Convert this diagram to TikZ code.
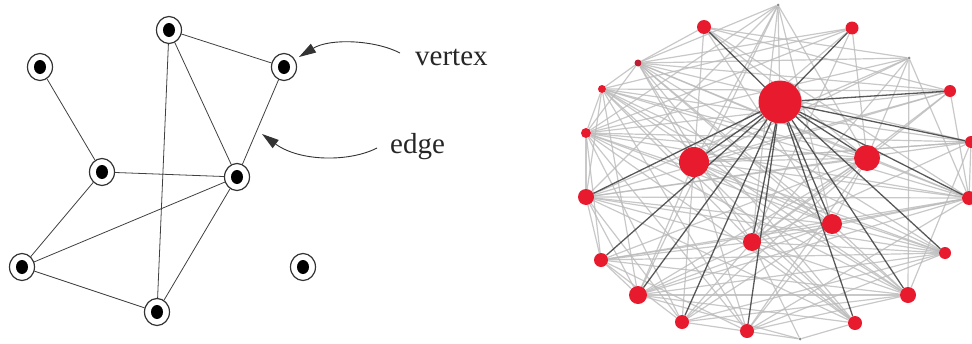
\documentclass[tikz,border=0pt]{standalone}
\usepackage{fontspec}
\setmainfont{Liberation Serif}
\usetikzlibrary{shapes.geometric,backgrounds,arrows.meta}
\definecolor{nodered}{RGB}{232,26,46}
\definecolor{darkred}{RGB}{190,30,50}
\definecolor{lightedge}{RGB}{186,186,186}
\definecolor{darkedge}{RGB}{60,60,60}
\begin{document}
\begin{tikzpicture}[x=1pt,y=-1pt,
  lv/.style={ellipse, draw=black!80, line width=1.2pt, fill=white,
    minimum width=25pt, minimum height=27pt, inner sep=0pt,
    path picture={\fill[black] (path picture bounding box.center) ellipse (6pt and 7pt);}},
  ledge/.style={draw=black!75, line width=0.8pt},
  lbl/.style={font=\fontsize{29}{30}\selectfont, text=black!85, anchor=base west, inner sep=0pt},
  callout/.style={draw=black!80, line width=0.9pt, -{Triangle[length=17pt,width=10pt]}},
  rv/.style={circle, fill=nodered, draw=none, inner sep=0pt, minimum size=#1},
  tv/.style={circle, fill=black!45, draw=none, inner sep=0pt, minimum size=3pt},
  gedge/.style={draw=lightedge, line width=1.2pt, opacity=0.8},
  dedge/.style={draw=darkedge, line width=1.3pt, opacity=0.85}]
\useasboundingbox (0,0) rectangle (972,343);
\clip (0,0) rectangle (972,343);
% ---------- left graph ----------
\node[lv] (A) at (40,67) {};
\node[lv] (B) at (169,30) {};
\node[lv] (C) at (284,67) {};
\node[lv] (D) at (102,172) {};
\node[lv] (E) at (237,177) {};
\node[lv] (F) at (22,267) {};
\node[lv] (G) at (157,312) {};
\node[lv] (H) at (303,267) {};
\draw[ledge] (A) -- (D);
\draw[ledge] (B) -- (C);
\draw[ledge] (B) -- (E);
\draw[ledge] (B) -- (G);
\draw[ledge] (C) -- (E);
\draw[ledge] (D) -- (E);
\draw[ledge] (D) -- (F);
\draw[ledge] (F) -- (E);
\draw[ledge] (F) -- (G);
\draw[ledge] (G) -- (E);
\node[lbl] (vlab) at (415,65) {vertex};
\node[lbl] (elab) at (390,153) {edge};
\coordinate (vs) at (400,53);
\coordinate (vt) at (299,57);
\coordinate (es) at (377,148);
\coordinate (et) at (262,134);
\draw[callout] (vs) .. controls (375,40) and (330,38) .. (vt);
\draw[callout] (es) .. controls (350,162) and (300,162) .. (et);
% ---------- right graph ----------
\node[tv] (r1) at (778,5) {};
\node[rv=14pt] (r2) at (704,27) {};
\node[rv=13pt] (r3) at (852,28) {};
\node[rv=7pt, fill=darkred] (r4) at (638,63) {};
\node[tv] (r5) at (909,58) {};
\node[rv=8pt] (r6) at (602,89) {};
\node[rv=12pt] (r7) at (950,91) {};
\node[rv=43pt] (r8) at (780,102) {};
\node[rv=10pt] (r9) at (586,133) {};
\node[rv=12pt] (r10) at (971,142) {};
\node[rv=30pt] (r11) at (694,162) {};
\node[rv=26pt] (r12) at (867,158) {};
\node[rv=16pt] (r13) at (586,197) {};
\node[rv=14pt] (r14) at (969,198) {};
\node[rv=20pt] (r15) at (832,224) {};
\node[rv=18pt] (r16) at (752,242) {};
\node[rv=14pt] (r17) at (601,260) {};
\node[rv=12pt] (r18) at (945,253) {};
\node[rv=18pt] (r19) at (638,295) {};
\node[rv=16pt] (r20) at (908,295) {};
\node[rv=14pt] (r21) at (682,322) {};
\node[rv=14pt] (r22) at (747,331) {};
\node[rv=14pt] (r23) at (855,323) {};
\node[tv] (r24) at (800,339) {};
\begin{pgfonlayer}{background}
\foreach \a/\b in {r1/r11,r1/r13,r1/r16,r1/r8,r1/r12,r1/r15,r1/r4,r1/r9,r1/r19,
  r2/r4,r2/r11,r2/r12,r2/r15,r2/r7,r2/r5,r2/r14,
  r3/r4,r3/r11,r3/r12,r3/r16,r3/r9,r3/r6,
  r4/r5,r4/r12,r4/r15,r4/r7,r4/r10,r4/r18,r4/r16,r4/r11,r4/r9,r4/r6,r4/r20,r4/r14,r4/r23,
  r5/r11,r5/r12,r5/r16,r5/r13,r5/r14,r5/r20,r5/r9,
  r6/r7,r6/r12,r6/r15,r6/r10,r6/r18,r6/r16,r6/r14,r6/r9,r6/r13,r6/r19,r6/r23,r6/r20,r6/r22,
  r7/r11,r7/r12,r7/r14,r7/r9,r7/r16,r7/r13,
  r9/r12,r9/r15,r9/r13,r9/r17,r9/r20,r9/r18,r9/r22,r9/r21,r9/r14,
  r10/r11,r10/r16,r10/r13,r10/r14,r10/r20,r10/r9,
  r11/r12,r11/r15,r11/r18,r11/r20,r11/r21,r11/r22,r11/r23,r11/r14,r11/r19,r11/r10,
  r12/r13,r12/r17,r12/r19,r12/r21,r12/r22,r12/r14,r12/r15,r12/r16,
  r13/r14,r13/r15,r13/r16,r13/r17,r13/r21,r13/r18,r13/r19,r13/r23,
  r14/r17,r14/r19,r14/r16,r14/r15,r14/r22,
  r15/r17,r15/r19,r15/r21,r15/r22,r15/r18,r15/r20,
  r16/r17,r16/r19,r16/r23,r16/r18,r16/r20,r16/r24,r16/r21,
  r17/r18,r17/r19,r17/r21,r17/r20,
  r18/r19,r18/r22,r18/r21,
  r19/r20,r19/r23,r19/r24,
  r20/r21,r20/r22,
  r21/r24,r23/r24,r23/r9,r22/r17}
  \draw[gedge] (\a) -- (\b);
\foreach \b in {r2,r3,r7,r10,r11,r12,r13,r14,r15,r16,r17,r18,r19,r20,r21,r22,r23}
  \draw[dedge] (r8) -- (\b);
\end{pgfonlayer}
\end{tikzpicture}
\end{document}
